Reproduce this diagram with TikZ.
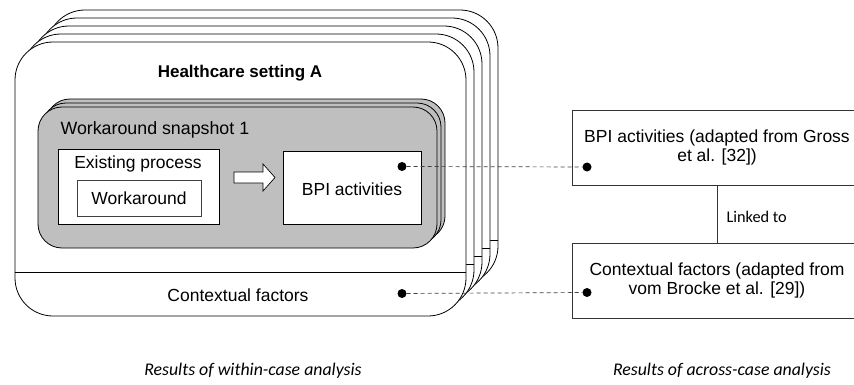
\documentclass[tikz,border=0pt]{standalone}
\usepackage{fontspec}
\setmainfont{Liberation Sans}
\newfontfamily\calfont{Carlito}
\begin{document}
\begin{tikzpicture}[x=1pt,y=-1pt,
  txt/.style={font=\fontsize{17.5}{19}\selectfont},
  card/.style={draw=black, line width=0.8pt, fill=white, rounded corners=38pt,
    minimum width=451pt, minimum height=274pt, inner sep=0pt},
  snap/.style={draw=black, line width=0.8pt, fill=gray!50, rounded corners=24pt,
    minimum width=399pt, minimum height=141pt, inner sep=0pt},
  plainbox/.style={draw=black, line width=0.7pt, fill=white, inner sep=0pt, txt},
  resultbox/.style={draw=black!80, line width=0.8pt, fill=white, inner sep=0pt,
    minimum width=290pt, minimum height=75pt, align=center, txt},
  dot/.style={circle, fill=black, inner sep=0pt, minimum size=9pt},
  link/.style={draw=black!75, dashed, dash pattern=on 4pt off 3pt, line width=0.7pt},
  caption/.style={font=\calfont\itshape\fontsize{17.8}{20}\selectfont}
]
\useasboundingbox (0,0) rectangle (854,385);

% stack of healthcare settings, back to front
\foreach \i in {4,3,2,1,0}{
  \node[card] (setting\i) at ({240.5+8*\i},{179-8*\i}) {};
  \draw[line width=0.8pt] ([yshift=44pt]setting\i.south west) -- ([yshift=44pt]setting\i.south east);
}
\node[font=\bfseries\fontsize{17}{19}\selectfont] (title) at (240,73) {Healthcare setting A};

% stack of workaround snapshots
\foreach \j in {2,1,0}{
  \node[snap] (snap\j) at ({237.5+4*\j},{177.5-4*\j}) {};
}
\node[anchor=west, font=\fontsize{17.8}{19}\selectfont] (snaplabel) at (57,130) {Workaround snapshot 1};

% existing process with its workaround
\node[plainbox, minimum width=161pt, minimum height=75pt] (existing) at (138.5,186.5) {};
\node[txt] (existinglabel) at (138,164) {Existing process};
\node[plainbox, draw=black!75, minimum width=124pt, minimum height=36pt] (workaround) at (139,198) {Workaround};

% block arrow to the BPI activities
\draw[line width=0.7pt, fill=white] (234,172) -- (263,172) -- (263,164) -- (275,177.5)
  -- (263,191) -- (263,183) -- (234,183) -- cycle;
\node[plainbox, minimum width=138pt, minimum height=73pt] (bpi) at (352,187.5) {};
\node[txt] (bpilabel) at (352,189.5) {BPI activities};

\node[txt] (context) at (238,295) {Contextual factors};

% across-case results
\node[resultbox] (bpires) at (717,147.5) {BPI activities (adapted from Gross\\et al. [32])};
\node[resultbox] (ctxres) at (717,280.5) {Contextual factors (adapted from\\vom Brocke et al. [29])};
\draw[draw=black!80, line width=0.8pt] (bpires.south) -- (ctxres.north);
\node[anchor=west, font=\calfont\fontsize{16.3}{18}\selectfont] (linked) at (723,217) {Linked to};

% dotted links between the two analyses
\node[dot] (d1) at (402,166.5) {};
\node[dot] (d2) at (402,293.5) {};
\node[dot] (d3) at (587,167) {};
\node[dot] (d4) at (587,292.5) {};
\draw[link] (d1) -- (d3);
\draw[link] (d2) -- (d4);

\node[caption] (within) at (253,371) {Results of within-case analysis};
\node[caption] (across) at (722,371) {Results of across-case analysis};
\end{tikzpicture}
\end{document}
